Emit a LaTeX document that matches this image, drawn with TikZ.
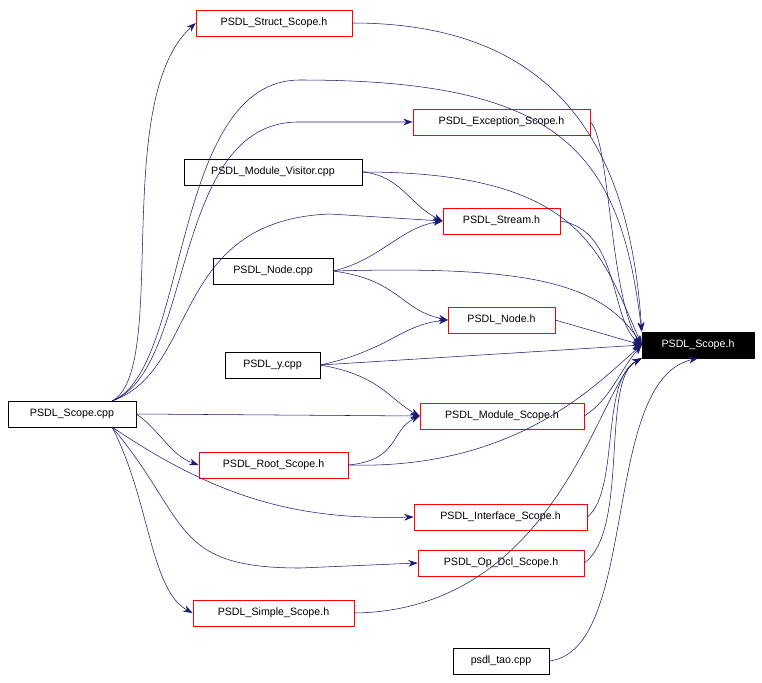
\documentclass[tikz,border=0pt]{standalone}
\usepackage{fontspec}
\setmainfont{Liberation Sans}
\usetikzlibrary{arrows.meta}
\definecolor{edgeblue}{HTML}{191970}

\begin{document}
\begin{tikzpicture}[x=0.75pt,y=-0.75pt,
  box/.style={draw=black,fill=white,minimum height=19.5pt,inner sep=0pt,font=\fontsize{8}{10}\selectfont},
  hdr/.style={box,draw=red},
  dep/.style={draw=edgeblue,-{Stealth[length=7pt,width=5pt]}}]

\useasboundingbox (0,0) rectangle (762,682);

% nodes
\node[hdr,minimum width=117pt] (structh) at (274,23) {PSDL\_Struct\_Scope.h};
\node[hdr,minimum width=133pt] (exch) at (501.5,122) {PSDL\_Exception\_Scope.h};
\node[box,minimum width=133.5pt] (visitor) at (273,172) {PSDL\_Module\_Visitor.cpp};
\node[hdr,minimum width=88pt] (streamh) at (501.5,221) {PSDL\_Stream.h};
\node[box,minimum width=90pt] (nodecpp) at (273,271) {PSDL\_Node.cpp};
\node[hdr,minimum width=80pt] (nodeh) at (501.5,320) {PSDL\_Node.h};
\node[box,fill=black,text=white,minimum width=84pt] (scopeh) at (698,345) {PSDL\_Scope.h};
\node[box,minimum width=71pt] (ycpp) at (272.5,365) {PSDL\_y.cpp};
\node[box,minimum width=96pt] (scopecpp) at (72,414) {PSDL\_Scope.cpp};
\node[hdr,minimum width=123pt] (moduleh) at (502,416) {PSDL\_Module\_Scope.h};
\node[hdr,minimum width=112pt] (rooth) at (273.5,465) {PSDL\_Root\_Scope.h};
\node[hdr,minimum width=130pt] (ifaceh) at (500.5,517) {PSDL\_Interface\_Scope.h};
\node[hdr,minimum width=124.5pt] (opdclh) at (501,563) {PSDL\_Op\_Dcl\_Scope.h};
\node[hdr,minimum width=121pt] (simpleh) at (273.5,613) {PSDL\_Simple\_Scope.h};
\node[box,minimum width=72pt] (taocpp) at (501,661) {psdl\_tao.cpp};

\coordinate (sc1) at (112,401);
\coordinate (sc2) at (112,427);

% PSDL_Scope.cpp includes
\draw[dep] (sc1) .. controls (170,370) and (110,100) .. (structh.west);
\draw[dep] (sc1) .. controls (190,370) and (170,80) .. (300,80) .. controls (560,80) and (620,150) .. (scopeh.north west);
\draw[dep] (sc1) .. controls (195,370) and (170,120) .. (300,122) -- (exch.west);
\draw[dep] (sc1) .. controls (200,370) and (170,220) .. (330,214) -- (streamh.west);
\draw[dep] (scopecpp.east) -- (moduleh.west);
\draw[dep] (scopecpp.east) .. controls (160,430) and (170,455) .. (rooth.west);
\draw[dep] (sc2) .. controls (220,500) and (300,520) .. (ifaceh.west);
\draw[dep] (sc2) .. controls (190,520) and (170,568) .. (300,568) -- (opdclh.west);
\draw[dep] (sc2) .. controls (150,500) and (150,590) .. (simpleh.west);

% other sources
\draw[dep] (visitor.east) .. controls (400,175) and (410,205) .. (streamh.west);
\draw[dep] (visitor.east) .. controls (580,172) and (600,250) .. (scopeh.west);
\draw[dep] (nodecpp.east) .. controls (380,260) and (400,228) .. (streamh.west);
\draw[dep] (nodecpp.east) .. controls (520,266) and (600,280) .. (scopeh.west);
\draw[dep] (nodecpp.east) .. controls (400,280) and (400,310) .. (nodeh.west);
\draw[dep] (ycpp.east) .. controls (390,350) and (400,325) .. (nodeh.west);
\draw[dep] (ycpp.east) -- (scopeh.west);
\draw[dep] (ycpp.east) .. controls (380,375) and (390,400) .. (moduleh.west);
\draw[dep] (rooth.east) .. controls (400,460) and (390,430) .. (moduleh.west);
\draw[dep] (rooth.east) .. controls (520,470) and (600,380) .. (scopeh.west);

% headers into PSDL_Scope.h
\draw[dep] (structh.east) .. controls (560,23) and (630,150) .. (scopeh.north west);
\draw[dep] (exch.east) .. controls (610,140) and (610,300) .. (scopeh.west);
\draw[dep] (streamh.east) .. controls (620,230) and (610,320) .. (scopeh.west);
\draw[dep] (nodeh.east) -- (scopeh.west);
\draw[dep] (moduleh.east) .. controls (610,400) and (620,370) .. (scopeh.west);
\draw[dep] (ifaceh.east) .. controls (620,490) and (600,380) .. (scopeh.south west);
\draw[dep] (opdclh.east) .. controls (630,530) and (600,380) .. (scopeh.south west);
\draw[dep] (simpleh.east) .. controls (560,610) and (600,380) .. (scopeh.south west);
\draw[dep] (taocpp.east) .. controls (640,650) and (600,380) .. (scopeh.south);

\end{tikzpicture}
\end{document}
